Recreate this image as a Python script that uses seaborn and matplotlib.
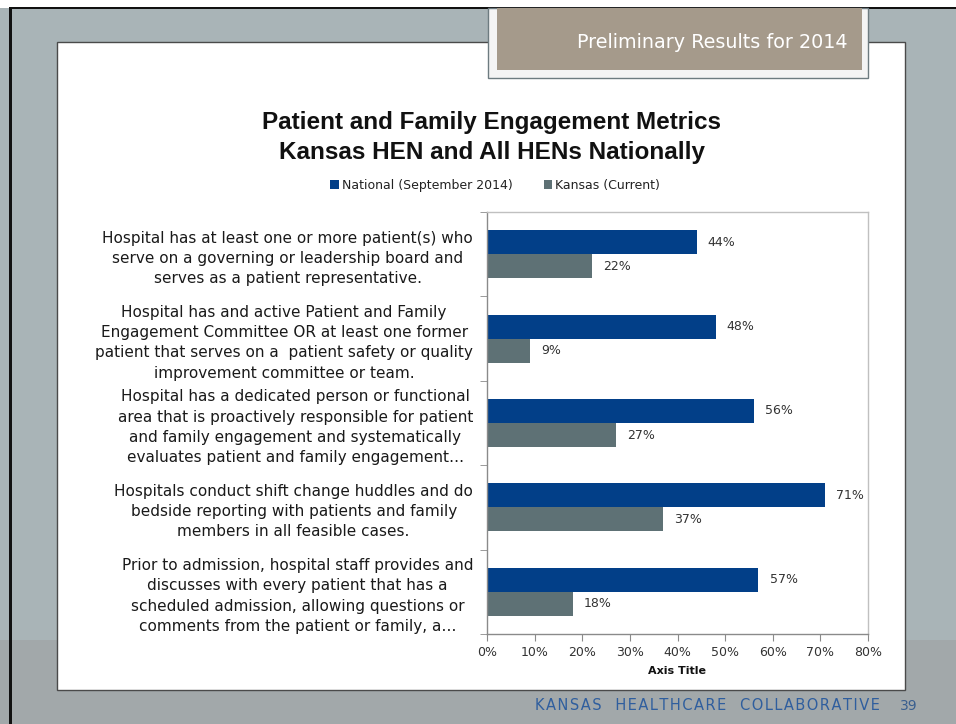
import numpy as np
import pandas as pd
import matplotlib
matplotlib.use("Agg")
import matplotlib.pyplot as plt
import seaborn as sns
from matplotlib.patches import Rectangle, Patch
from matplotlib.ticker import FuncFormatter, FixedLocator

# ---------------- data ----------------
categories = [
    "Hospital has at least one or more patient(s) who\nserve on a governing or leadership board and\nserves as a patient representative.",
    "Hospital has and active Patient and Family\nEngagement Committee OR at least one former\npatient that serves on a  patient safety or quality\nimprovement committee or team.",
    "Hospital has a dedicated person or functional\narea that is proactively responsible for patient\nand family engagement and systematically\nevaluates patient and family engagement\u2026",
    "Hospitals conduct shift change huddles and do\nbedside reporting with patients and family\nmembers in all feasible cases.",
    "Prior to admission, hospital staff provides and\ndiscusses with every patient that has a\nscheduled admission, allowing questions or\ncomments from the patient or family, a\u2026",
]
national = [44, 48, 56, 71, 57]
kansas = [22, 9, 27, 37, 18]
series_names = ["National (September 2014)", "Kansas (Current)"]
x_ticks = [0, 10, 20, 30, 40, 50, 60, 70, 80]

df = pd.DataFrame({
    "Metric": categories * 2,
    "Value": national + kansas,
    "Series": [series_names[0]] * len(categories) + [series_names[1]] * len(categories),
})

BLUE = "#023f88"
GRAY = "#5e7175"

sns.set_style("white")
plt.rcParams["font.family"] = ["DejaVu Sans"]

W, H = 956, 724
fig = plt.figure(figsize=(W / 100, H / 100), dpi=100)
fig.patch.set_facecolor("white")


def fx(px):
    return px / W


def fy(py):
    return 1 - py / H


def rect(x0, y0, x1, y1, z=-10, **kw):
    fig.patches.append(Rectangle((x0 / W, 1 - y1 / H), (x1 - x0) / W, (y1 - y0) / H,
                                 transform=fig.transFigure, figure=fig, zorder=z, **kw))


# slide background
rect(0, 8, W, H, fc="#a9b4b7", ec="none")
rect(0, 640, W, H, z=-9, fc="#a2a8aa", ec="none")
rect(9, 7, W, 9, z=-8, fc="#111111", ec="none")
rect(9, 7, 12, H, z=-8, fc="#111111", ec="none")
# white content panel
rect(57, 42, 905, 690, z=-7, fc="white", ec="#4a4a4a", lw=1)
# header box
rect(488, 8, 868, 78, z=-5, fc="#f4f4f4", ec="#6d7b80", lw=1)
rect(497, 8, 862, 70, z=-4, fc="#a59a8b", ec="none")
fig.text(fx(848), fy(43), "Preliminary Results for 2014", ha="right", va="center",
         color="white", fontsize=13.8)

# titles
fig.text(fx(492), fy(122), "Patient and Family Engagement Metrics", ha="center", va="center",
         fontsize=17.5, fontweight="bold", family="Liberation Sans", color="#111111")
fig.text(fx(492), fy(152), "Kansas HEN and All HENs Nationally", ha="center", va="center",
         fontsize=17.5, fontweight="bold", family="Liberation Sans", color="#111111")

# chart
ax = fig.add_axes([fx(487), fy(634), (868 - 487) / W, (634 - 212) / H])
ax.set_facecolor("white")
sns.barplot(data=df, y="Metric", x="Value", hue="Series", orient="h",
            palette=[BLUE, GRAY], saturation=1, width=0.57, linewidth=0, ax=ax, legend=False)

ax.set_xlim(0, 80)
ax.xaxis.set_major_locator(FixedLocator(x_ticks))
ax.xaxis.set_major_formatter(FuncFormatter(lambda v, p: f"{v:.0f}%"))
ax.set_ylabel("")
ax.set_xlabel("Axis Title", fontsize=8, fontweight="bold", labelpad=5, color="#111111")

for cont in ax.containers:
    ax.bar_label(cont, fmt="%g%%", padding=8, fontsize=9, color="#333333")

for side in ["top", "right"]:
    ax.spines[side].set_visible(True)
    ax.spines[side].set_color("#c0c0c0")
    ax.spines[side].set_linewidth(1)
for side in ["left", "bottom"]:
    ax.spines[side].set_color("#8a8a8a")
    ax.spines[side].set_linewidth(1)

ax.tick_params(axis="x", which="major", length=5, color="#8a8a8a", labelsize=9,
               labelcolor="#333333", pad=4, bottom=True)
ax.tick_params(axis="y", which="major", length=0, pad=10, labelsize=11, labelcolor="#1a1a1a")
ax.yaxis.set_minor_locator(FixedLocator(np.arange(-0.5, len(categories), 1.0)))
ax.tick_params(axis="y", which="minor", length=5, color="#8a8a8a", left=True)
for t in ax.get_yticklabels():
    t.set_multialignment("center")
    t.set_linespacing(1.45)

handles = [Patch(fc=BLUE, ec="none"), Patch(fc=GRAY, ec="none")]
fig.legend(handles, series_names, loc="center", bbox_to_anchor=(fx(495), fy(185)), ncol=2,
           frameon=False, fontsize=9, handlelength=0.7, handleheight=0.7,
           handletextpad=0.2, columnspacing=2.5, labelcolor="#222222")

# footer
footer = "KANSAS HEALTHCARE COLLABORATIVE"
hs = "\u200a"
fig.text(fx(880), fy(706), hs.join(footer.replace(" ", "  ")),
         ha="right", va="center", color="#2f5e9e", fontsize=10.5)
fig.text(fx(918), fy(706), "39", ha="right", va="center", color="#3a5f8f", fontsize=10)

fig.savefig("out.png", dpi=100, facecolor=fig.get_facecolor())
